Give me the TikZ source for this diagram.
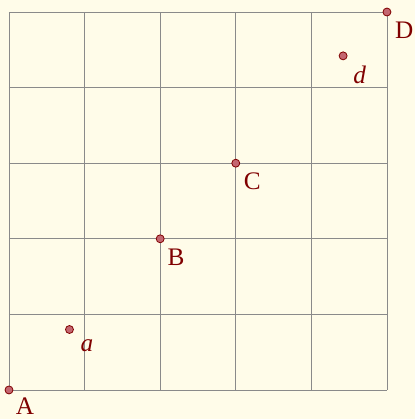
\documentclass[tikz,border=0pt]{standalone}
\usepackage{fontspec}
\setmainfont{Liberation Serif}
\definecolor{bgcream}{HTML}{FFFCE9}
\definecolor{gridgray}{HTML}{8A8A8A}
\definecolor{ptred}{HTML}{800000}
\definecolor{ptfill}{HTML}{C46670}
\tikzset{
  pt/.style={circle,draw=ptred,fill=ptfill,line width=0.6pt,inner sep=0pt,minimum size=6pt},
  lbl/.style={text=ptred,font=\fontsize{19}{21}\selectfont,inner sep=0pt}
}

\begin{document}
\begin{tikzpicture}[x=2cm,y=2cm]
\fill[bgcream] (-0.119,-0.384) rectangle (5.370,5.159);
\useasboundingbox (-0.119,-0.384) rectangle (5.370,5.159);
\draw[gridgray,line width=0.6pt,step=2cm] (0,0) grid (5,5);
\node[pt] (A) at (0,0) {};
\node[pt] (B) at (2,2) {};
\node[pt] (C) at (3,3) {};
\node[pt] (D) at (5,5) {};
\node[pt] (a) at (0.8,0.8) {};
\node[pt] (d) at (4.42,4.42) {};
\node[lbl] (labA) at ([shift={(0.21,-0.215)}]A) {A};
\node[lbl] (labB) at ([shift={(0.21,-0.24)}]B) {B};
\node[lbl] (labC) at ([shift={(0.22,-0.24)}]C) {C};
\node[lbl] (labD) at ([shift={(0.23,-0.24)}]D) {D};
\node[lbl] (laba) at ([shift={(0.23,-0.21)}]a) {\textit{a}};
\node[lbl] (labd) at ([shift={(0.22,-0.25)}]d) {\textit{d}};
\end{tikzpicture}
\end{document}
